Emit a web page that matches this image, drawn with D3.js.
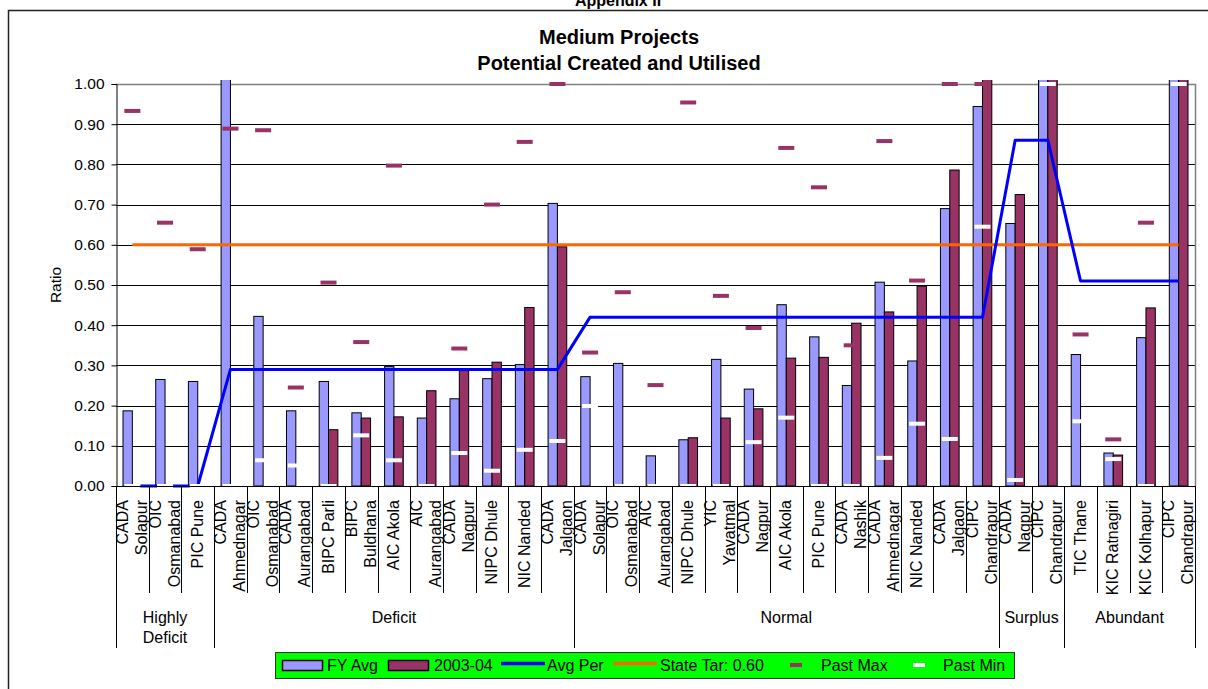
<!DOCTYPE html>
<meta charset="utf-8">
<style>
body { margin: 0; background: #fff; }
text { font-family: "Liberation Sans", Arial, sans-serif; fill: #000; }
.grid line { stroke: #000; stroke-width: 1px; }
.bars rect { stroke: #000; stroke-width: 1px; }
</style>
<svg width="1208" height="689"></svg>
<script src="https://d3js.org/d3.v7.min.js"></script>
<script>

// category labels (two-line labels split with \n)
var categories = [
  "CADA\nSolapur", "OIC\nOsmanabad", "PIC Pune",
  "CADA\nAhmednagar", "OIC\nOsmanabad", "CADA\nAurangabad", "BIPC Parli", "BIPC\nBuldhana",
  "AIC Akola", "AIC\nAurangabad", "CADA\nNagpur", "NIPC Dhule", "NIC Nanded", "CADA\nJalgaon",
  "CADA\nSolapur", "OIC\nOsmanabad", "AIC\nAurangabad", "NIPC Dhule", "YIC\nYavatmal",
  "CADA\nNagpur", "AIC Akola", "PIC Pune", "CADA\nNashik", "CADA\nAhmednagar", "NIC Nanded",
  "CADA\nJalgaon", "CIPC\nChandrapur",
  "CADA\nNagpur", "CIPC\nChandrapur",
  "TIC Thane", "KIC Ratnagiri", "KIC Kolhapur", "CIPC\nChandrapur"
];

var groupNames = ["Highly\nDeficit", "Deficit", "Normal", "Surplus", "Abundant"];
var groupSizes = [3, 11, 13, 2, 4];

var fyAvg = [0.187, 0.265, 0.260, 1.10, 0.422, 0.187, 0.260, 0.182, 0.297, 0.169, 0.217,
  0.267, 0.302, 0.703, 0.272, 0.305, 0.075, 0.115, 0.315, 0.241, 0.451, 0.371, 0.250,
  0.507, 0.311, 0.690, 0.944, 0.653, 1.10, 0.327, 0.082, 0.369, 1.10];

var y2003 = [null, null, null, null, null, null, 0.140, 0.169, 0.172, 0.237, 0.287,
  0.308, 0.444, 0.595, null, null, null, 0.120, 0.169, 0.192, 0.318, 0.320, 0.405,
  0.433, 0.497, 0.786, 1.05, 0.725, 1.05, null, 0.077, 0.443, 1.05];

var avgPer = [0, 0, 0,
  0.29, 0.29, 0.29, 0.29, 0.29, 0.29, 0.29, 0.29, 0.29, 0.29, 0.29,
  0.42, 0.42, 0.42, 0.42, 0.42, 0.42, 0.42, 0.42, 0.42, 0.42, 0.42, 0.42, 0.42,
  0.86, 0.86,
  0.51, 0.51, 0.51, 0.51];

var stateTarget = 0.60;

var pastMax = [0.933, 0.655, 0.589, 0.889, 0.885, 0.245, 0.506, 0.358, 0.797, null, 0.342,
  0.700, 0.856, 1.0, 0.332, 0.482, 0.251, 0.954, 0.473, 0.393, 0.841, 0.743, 0.350,
  0.858, 0.511, 1.0, 1.0, null, null, 0.377, 0.116, 0.655, null];

var pastMin = [0, 0, 0, 0, 0.064, 0.051, 0, 0.126, 0.064, 0, 0.082,
  0.038, 0.090, 0.112, 0.199, 0, 0, 0, 0, 0.109, 0.170, 0, 0,
  0.070, 0.155, 0.117, 0.645, 0.015, 1.0, 0.161, 0.067, 0, 1.0];

var yTicks = [0, 0.1, 0.2, 0.3, 0.4, 0.5, 0.6, 0.7, 0.8, 0.9, 1.0];

var legendItems = [
  {label: "FY Avg", type: "bar", color: "#9999FF"},
  {label: "2003-04", type: "bar", color: "#993366"},
  {label: "Avg Per", type: "line", color: "#0000FF"},
  {label: "State Tar: 0.60", type: "line", color: "#FF6600"},
  {label: "Past Max", type: "mark", color: "#993366"},
  {label: "Past Min", type: "mark", color: "#FFFFFF"}
];

var svg = d3.select("svg");
var plot = {left: 116, right: 1195, top: 84, bottom: 486};

var idx = d3.range(categories.length);

var x = d3.scaleBand().domain(idx).range([plot.left, plot.right]).padding(0);
var xSub = d3.scaleBand().domain(["fy", "cur"]).range([0, x.bandwidth()])
    .paddingInner(0).paddingOuter(0.75);
var y = d3.scaleLinear().domain([0, 1]).range([plot.bottom, plot.top]);

function cx(i) { return x(i) + x.bandwidth() / 2; }

// chart frame
svg.append("rect")
    .attr("x", 8.5).attr("y", 10.5)
    .attr("width", 1215).attr("height", 700)
    .attr("fill", "none").attr("stroke", "#222").attr("stroke-width", 1.5);

// titles
svg.append("text").attr("x", 618).attr("y", 6)
    .attr("text-anchor", "middle").style("font-size", "16px").style("font-weight", "bold")
    .text("Appendix II");
svg.append("text").attr("x", 619).attr("y", 44)
    .attr("text-anchor", "middle").style("font-size", "20px").style("font-weight", "bold")
    .text("Medium Projects");
svg.append("text").attr("x", 619).attr("y", 70)
    .attr("text-anchor", "middle").style("font-size", "20px").style("font-weight", "bold")
    .text("Potential Created and Utilised");

// gridlines
svg.append("g").attr("class", "grid")
  .selectAll("line")
  .data(yTicks.filter(function(d) { return d > 0 && d < 1; }))
  .enter().append("line")
    .attr("x1", plot.left).attr("x2", plot.right)
    .attr("y1", function(d) { return Math.round(y(d)) + 0.5; })
    .attr("y2", function(d) { return Math.round(y(d)) + 0.5; });

// plot border top / right (gray)
svg.append("path")
    .attr("d", "M" + plot.left + "," + (plot.top + 0.5) + "H" + (plot.right + 0.5) + "V" + plot.bottom)
    .attr("fill", "none").attr("stroke", "#808080").attr("stroke-width", 1.5);

// clip for bars over 1.0
svg.append("defs").append("clipPath").attr("id", "clip")
  .append("rect").attr("x", plot.left).attr("y", plot.top - 4)
    .attr("width", plot.right - plot.left).attr("height", plot.bottom - plot.top + 4);

var bars = svg.append("g").attr("class", "bars").attr("clip-path", "url(#clip)");

bars.selectAll("rect.fy")
  .data(idx.filter(function(i) { return fyAvg[i] != null; }))
  .enter().append("rect").attr("class", "fy")
    .attr("x", function(i) { return x(i) + xSub("fy"); })
    .attr("width", xSub.bandwidth())
    .attr("y", function(i) { return y(fyAvg[i]); })
    .attr("height", function(i) { return y(0) - y(fyAvg[i]); })
    .attr("fill", "#9999FF");

bars.selectAll("rect.cur")
  .data(idx.filter(function(i) { return y2003[i] != null; }))
  .enter().append("rect").attr("class", "cur")
    .attr("x", function(i) { return x(i) + xSub("cur"); })
    .attr("width", xSub.bandwidth())
    .attr("y", function(i) { return y(y2003[i]); })
    .attr("height", function(i) { return y(0) - y(y2003[i]); })
    .attr("fill", "#993366");

// state target line
svg.append("path")
    .datum(idx)
    .attr("fill", "none").attr("stroke", "#FF6600").attr("stroke-width", 3)
    .attr("d", d3.line().x(cx).y(function() { return y(stateTarget); }));

// avg per line
svg.append("path")
    .datum(idx)
    .attr("fill", "none").attr("stroke", "#0000FF").attr("stroke-width", 3)
    .attr("stroke-linejoin", "round")
    .attr("d", d3.line().x(cx).y(function(i) { return y(avgPer[i]); }));

// past max / past min markers
svg.append("g").selectAll("rect")
  .data(idx.filter(function(i) { return pastMax[i] != null; }))
  .enter().append("rect")
    .attr("x", function(i) { return cx(i) - 8; })
    .attr("y", function(i) { return y(pastMax[i]) - 2; })
    .attr("width", 16).attr("height", 4)
    .attr("fill", "#993366");

svg.append("g").selectAll("rect")
  .data(idx.filter(function(i) { return pastMin[i] != null; }))
  .enter().append("rect")
    .attr("x", function(i) { return cx(i) - 8; })
    .attr("y", function(i) { return y(pastMin[i]) - 2; })
    .attr("width", 16).attr("height", 4)
    .attr("fill", "#FFFFFF");

// y axis
var yAxis = svg.append("g")
    .attr("transform", "translate(" + (plot.left + 0.5) + ",0)")
    .call(d3.axisLeft(y).tickValues(yTicks).tickFormat(d3.format(".2f")).tickSize(5).tickPadding(7));
yAxis.select(".domain").attr("stroke", "#000");
yAxis.selectAll("line").attr("stroke", "#000");
yAxis.selectAll("text").style("font-size", "15.5px")
    .style("font-family", "'Liberation Sans', Arial, sans-serif").attr("fill", "#000");

svg.append("text")
    .attr("transform", "translate(61,285) rotate(-90)")
    .attr("text-anchor", "middle").style("font-size", "15.5px")
    .text("Ratio");

// x axis line
svg.append("line")
    .attr("x1", plot.left).attr("x2", plot.right)
    .attr("y1", plot.bottom + 0.5).attr("y2", plot.bottom + 0.5)
    .attr("stroke", "#000");

// category boundaries
var groupStarts = [0];
groupSizes.forEach(function(n, k) { groupStarts.push(groupStarts[k] + n); });

svg.append("g").selectAll("line")
  .data(d3.range(categories.length + 1))
  .enter().append("line")
    .attr("x1", function(i) { return Math.round(plot.left + i * x.step()) + 0.5; })
    .attr("x2", function(i) { return Math.round(plot.left + i * x.step()) + 0.5; })
    .attr("y1", plot.bottom)
    .attr("y2", function(i) { return groupStarts.indexOf(i) >= 0 ? 648 : 593; })
    .attr("stroke", "#000");

// category labels
var catLabels = svg.append("g").selectAll("g")
  .data(idx)
  .enter().append("g");

catLabels.each(function(i) {
  var lines = categories[i].split("\n");
  var g = d3.select(this);
  lines.forEach(function(t, k) {
    var bx = cx(i) + (k - (lines.length - 1) / 2) * 19 + 5;
    g.append("text")
        .attr("transform", "translate(" + bx + ",500) rotate(-90)")
        .attr("text-anchor", "end")
        .style("font-size", "16px")
        .text(t);
  });
});

// group labels
groupNames.forEach(function(name, k) {
  var mid = plot.left + (groupStarts[k] + groupSizes[k] / 2) * x.step();
  name.split("\n").forEach(function(t, j) {
    svg.append("text")
        .attr("x", mid).attr("y", 623 + j * 20)
        .attr("text-anchor", "middle").style("font-size", "16px")
        .text(t);
  });
});

// legend
var legend = svg.append("g");
legend.append("rect")
    .attr("x", 275.5).attr("y", 652.5).attr("width", 739).attr("height", 26)
    .attr("fill", "#00FF00").attr("stroke", "#333").attr("stroke-width", 1);

var legendX = [282, 388, 501, 613, 790, 913];
var legendTextX = [327, 434, 547, 660, 821, 943];

legendItems.forEach(function(d, k) {
  if (d.type === "bar") {
    legend.append("rect")
        .attr("x", legendX[k] + 0.5).attr("y", 660.5).attr("width", 40).attr("height", 10)
        .attr("fill", d.color).attr("stroke", "#000").attr("stroke-width", 1.5);
  } else if (d.type === "line") {
    legend.append("line")
        .attr("x1", legendX[k]).attr("x2", legendX[k] + 44)
        .attr("y1", 663.5).attr("y2", 663.5)
        .attr("stroke", d.color).attr("stroke-width", 3.5);
  } else {
    legend.append("rect")
        .attr("x", legendX[k]).attr("y", 663).attr("width", 12).attr("height", 4)
        .attr("fill", d.color);
  }
  legend.append("text")
      .attr("x", legendTextX[k]).attr("y", 671)
      .style("font-size", "16px")
      .text(d.label);
});

</script>
